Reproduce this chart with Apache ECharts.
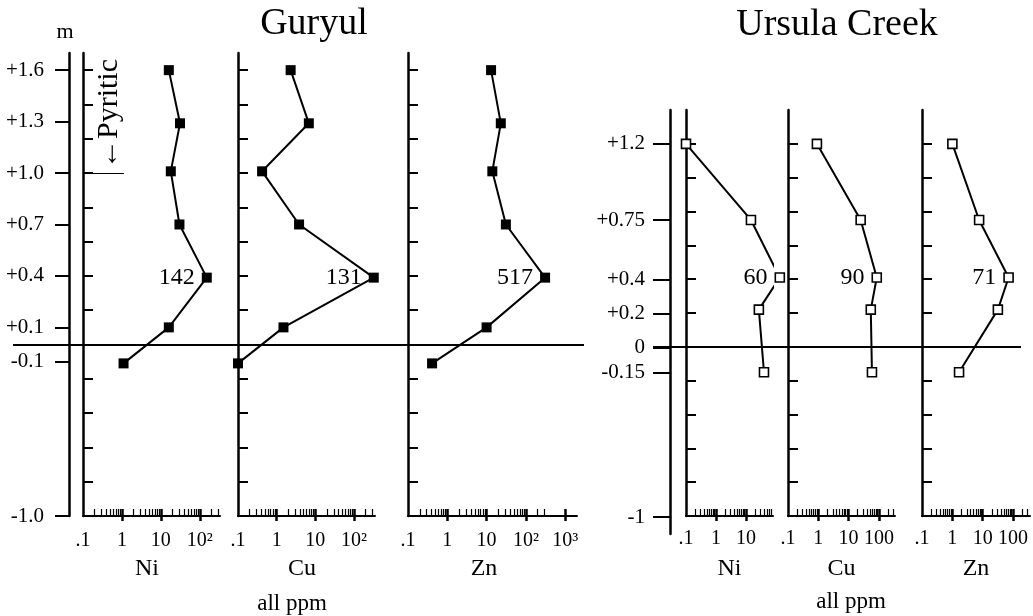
<!DOCTYPE html>
<html>
<head>
<meta charset="utf-8">
<title>Guryul / Ursula Creek</title>
<script src="https://cdn.jsdelivr.net/npm/echarts@6.0.0/dist/echarts.min.js"></script>
<style>
    html, body { margin: 0; padding: 0; background: #fff; }
    #chart { width: 1033px; height: 616px; }
</style>
</head>
<body>
<div id="chart"></div>
<script>
'use strict'

// Guryul: sample depth (m) and concentrations (ppm)
var guryulDepth = [1.6, 1.29, 1.01, 0.70, 0.39, 0.10, -0.11];
var guryulNi = [16, 31, 18, 30, 151, 16, 1.1];
var guryulCu = [2.3, 6.8, 0.42, 3.8, 325, 1.5, 0.1];
var guryulZn = [13, 23, 14, 31, 308, 10, 0.41];
var guryulPeak = ['142', '131', '517'];
var guryulDepthTicks = [1.6, 1.3, 1.0, 0.7, 0.4, 0.1, -0.1, -1.0];
var guryulDepthLabels = ['+1.6', '+1.3', '+1.0', '+0.7', '+0.4', '+0.1', '-0.1', '-1.0'];
var pyriticDepth = 1.0;
var pyriticEnd = 1.12;

// Ursula Creek
var ursulaDepth = [1.2, 0.75, 0.41, 0.22, -0.15];
var ursulaNi = [0.1, 14.7, 135, 27, 40];
var ursulaCu = [0.9, 25, 85, 54, 59];
var ursulaZn = [1.0, 7.6, 71, 31.5, 1.66];
var ursulaPeak = ['60', '90', '71'];
var ursulaDepthTicks = [1.2, 0.75, 0.4, 0.2, 0, -0.15, -1];
var ursulaDepthLabels = ['+1.2', '+0.75', '+0.4', '+0.2', '0', '-0.15', '-1'];

var elementNames = ['Ni', 'Cu', 'Zn'];
var guryulLogLabels = ['.1', '1', '10', '10²', '10³'];
var ursulaLogLabels = ['.1', '1', '10', '100'];

var FONT = 'Liberation Serif';
var grids = [], xAxes = [], yAxes = [], series = [];

function minorTicks(max) {
    var out = [];
    [-1, 0, 1, 2].forEach(function (e) {
        for (var m = 2; m <= 9; m++) {
            var v = parseFloat((m * Math.pow(10, e)).toPrecision(2));
            if (v < max && (e < 2 || m <= 3)) out.push(v);
        }
    });
    return out;
}

function stepTicks(from, to) {
    var out = [];
    for (var i = 0; from + i * 0.2 <= to + 1e-9; i++) {
        out.push(Math.round((from + i * 0.2) * 10) / 10);
    }
    return out;
}

function logLabel(labels) {
    return function (v) {
        return labels[Math.round(Math.log10(v)) + 1] || '';
    };
}

function nearestLabel(ticks, labels) {
    return function (v) {
        var best = 0;
        ticks.forEach(function (t, i) {
            if (Math.abs(t - v) < Math.abs(ticks[best] - v)) best = i;
        });
        return labels[best];
    };
}

function addGrid(rect) {
    grids.push({
        left: rect.left, top: rect.top, width: rect.width, height: rect.height,
        containLabel: false, outerBoundsMode: 'none'
    });
    return grids.length - 1;
}

function addPlot(p) {
    var rect = { left: p.left, top: p.top, width: p.width, height: p.height };
    var g0 = addGrid(rect), g1 = addGrid(rect), g2 = addGrid(rect);
    var majors = [1, 10, 100, 1000].filter(function (v) { return v < p.xMax; });
    var labelVals = [0.1].concat(majors);
    var base = { type: 'log', logBase: 10, min: 0.1, max: p.xMax, splitLine: { show: false } };

    xAxes.push(Object.assign({}, base, {
        gridIndex: g0,
        name: p.name, nameLocation: 'middle', nameGap: 41,
        nameTextStyle: { fontFamily: FONT, fontSize: 24, color: '#000', padding: [0, p.namePad || 0, 0, 0] },
        axisLine: { show: true, onZero: false, lineStyle: { color: '#000', width: 2 } },
        axisTick: { show: true, inside: true, length: 7, customValues: majors, lineStyle: { color: '#000', width: 2.5 } },
        axisLabel: { customValues: labelVals, formatter: logLabel(p.logLabels), fontFamily: FONT, fontSize: 20, color: '#000', margin: p.labelMargin }
    }));
    xAxes.push(Object.assign({}, base, {
        gridIndex: g1,
        axisLine: { show: false },
        axisTick: { show: true, inside: false, length: 5, customValues: majors, lineStyle: { color: '#000', width: 2.5 } },
        axisLabel: { show: false }
    }));
    xAxes.push(Object.assign({}, base, {
        gridIndex: g2,
        axisLine: { show: false },
        axisTick: { show: true, inside: true, length: 7, customValues: minorTicks(p.xMax), lineStyle: { color: '#000', width: 1.2 } },
        axisLabel: { show: false }
    }));

    yAxes.push({
        gridIndex: g0, type: 'value', min: p.yMin, max: p.yMax,
        axisLine: { show: true, onZero: false, lineStyle: { color: '#000', width: 2.5 } },
        axisTick: { show: true, inside: true, length: 10, customValues: p.yTicks, lineStyle: { color: '#000', width: 2 } },
        axisLabel: { show: false },
        splitLine: { show: false }
    });
    yAxes.push({ gridIndex: g1, type: 'value', show: false });
    yAxes.push({ gridIndex: g2, type: 'value', show: false });

    var peak = p.values.indexOf(Math.max.apply(null, p.values));
    var data = p.depths.map(function (d, i) {
        var item = { value: [p.values[i], d] };
        if (i === peak) {
            item.label = {
                show: true, position: 'left', distance: 7, formatter: p.peakText,
                fontFamily: FONT, fontSize: 24, color: '#000'
            };
        }
        return item;
    });

    var s = {
        type: 'line', xAxisIndex: g0, yAxisIndex: g0, data: data,
        symbol: 'rect', symbolSize: p.hollow ? 9 : 10, showAllSymbol: true, clip: false,
        lineStyle: { color: '#000', width: 2 },
        itemStyle: p.hollow ? { color: '#fff', borderColor: '#000', borderWidth: 1.6 } : { color: '#000' },
        z: 5
    };
    series.push(s);
    return s;
}

function addDepthAxis(p) {
    var gi = addGrid({ left: p.left, top: p.top, width: 1, height: p.height });
    xAxes.push({ gridIndex: gi, type: 'value', show: false });
    yAxes.push({
        gridIndex: gi, type: 'value', min: p.min, max: p.max,
        axisLine: { show: true, onZero: false, lineStyle: { color: '#000', width: 2.5 } },
        axisTick: { show: true, inside: false, length: p.tickLen, customValues: p.ticks, lineStyle: { color: '#000', width: 2 } },
        axisLabel: { customValues: p.ticks, formatter: nearestLabel(p.ticks, p.labels), fontFamily: FONT, fontSize: 21, color: '#000', margin: 25 },
        splitLine: { show: false }
    });
}

function addZeroLine(p) {
    var gi = addGrid(p);
    xAxes.push({ gridIndex: gi, type: 'value', show: false, min: 0, max: 1 });
    yAxes.push({ gridIndex: gi, type: 'value', show: false, min: p.min, max: p.max });
    series.push({
        type: 'line', xAxisIndex: gi, yAxisIndex: gi, data: [],
        markLine: {
            silent: true, symbol: 'none', label: { show: false },
            lineStyle: { color: '#000', width: 1.8, type: 'solid' },
            data: [{ yAxis: 0 }]
        }
    });
}

// --- Guryul panel ---
var gTop = 53, gHeight = 463, gMin = -1.0, gMax = 1.7;
var gTicks = stepTicks(-1.0, 1.6);
var guryulPlots = [
    { left: 83, width: 137, xMax: 330, values: guryulNi, namePad: 9 },
    { left: 238, width: 137, xMax: 350, values: guryulCu, namePad: 9 },
    { left: 408, width: 169, xMax: 2000, values: guryulZn, namePad: 17 }
];
var guryulSeries = guryulPlots.map(function (p, i) {
    return addPlot(Object.assign(p, {
        top: gTop, height: gHeight, yMin: gMin, yMax: gMax, yTicks: gTicks,
        depths: guryulDepth, peakText: guryulPeak[i], name: elementNames[i],
        logLabels: guryulLogLabels, labelMargin: 15, hollow: false
    }));
});
guryulSeries[0].markLine = {
    silent: true, symbol: 'none', label: { show: false },
    lineStyle: { color: '#000', width: 1, type: 'solid' },
    data: [[{ coord: [0.1, pyriticDepth] }, { coord: [pyriticEnd, pyriticDepth] }]]
};
addDepthAxis({ left: 69, top: gTop, height: gHeight, min: gMin, max: gMax, tickLen: 14, ticks: guryulDepthTicks, labels: guryulDepthLabels });
addZeroLine({ left: 13, width: 571, top: gTop, height: gHeight, min: gMin, max: gMax });

// --- Ursula Creek panel ---
var uTop = 110, uHeight = 406, uMin = -1, uMax = 1.4;
var uTicks = stepTicks(-1.0, 1.2);
var ursulaPlots = [
    { left: 686, width: 87, xMax: 80, values: ursulaNi },
    { left: 788, width: 107, xMax: 340, values: ursulaCu },
    { left: 922, width: 108, xMax: 360, values: ursulaZn }
];
ursulaPlots.forEach(function (p, i) {
    addPlot(Object.assign(p, {
        top: uTop, height: uHeight, yMin: uMin, yMax: uMax, yTicks: uTicks,
        depths: ursulaDepth, peakText: ursulaPeak[i], name: elementNames[i],
        logLabels: ursulaLogLabels, labelMargin: 13, hollow: true
    }));
});
addDepthAxis({ left: 670, top: uTop, height: 424, min: -1.1, max: 1.4, tickLen: 17, ticks: ursulaDepthTicks, labels: ursulaDepthLabels });
addZeroLine({ left: 653, width: 368, top: uTop, height: uHeight, min: uMin, max: uMax });

function text(x, y, str, size, extra) {
    return Object.assign({
        type: 'text', x: x, y: y, silent: true,
        style: { text: str, fontFamily: FONT, fontSize: size, fill: '#000', align: 'center', verticalAlign: 'middle' }
    }, extra || {});
}

var option = {
    animation: false,
    backgroundColor: '#fff',
    textStyle: { fontFamily: FONT, color: '#000' },
    grid: grids,
    xAxis: xAxes,
    yAxis: yAxes,
    series: series,
    graphic: [
        text(314, 24, 'Guryul', 38),
        text(837, 25, 'Ursula Creek', 38),
        text(65, 32, 'm', 22),
        text(292, 604, 'all ppm', 23),
        text(851, 602, 'all ppm', 23),
        text(109, 114, '←Pyritic', 30, { rotation: Math.PI / 2 })
    ]
};

var myChart = echarts.init(document.getElementById('chart'), null, { renderer: 'canvas' });
myChart.setOption(option);
</script>
</body>
</html>
